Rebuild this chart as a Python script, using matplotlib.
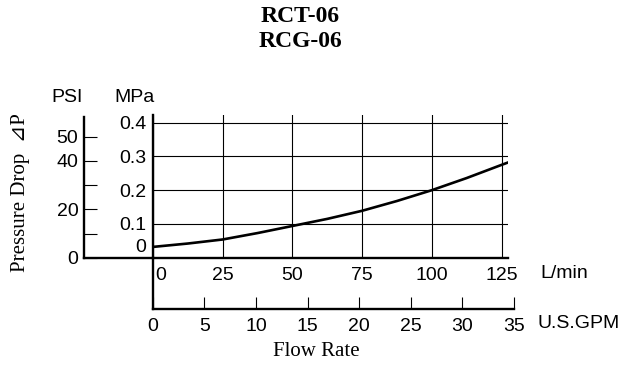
import matplotlib
matplotlib.use("Agg")
import matplotlib.pyplot as plt
from matplotlib.transforms import ScaledTranslation

# ---- data ----
flow_lpm = [0, 12.5, 25, 37.5, 50, 62.5, 75, 87.5, 100, 112.5, 125, 127.3]
drop_mpa = [0.032, 0.042, 0.054, 0.073, 0.094, 0.115, 0.139, 0.168, 0.200, 0.236, 0.275, 0.282]
lpm_ticks = [0, 25, 50, 75, 100, 125]
mpa_ticks = [0, 0.1, 0.2, 0.3, 0.4]
mpa_labels = ["0", "0.1", "0.2", "0.3", "0.4"]
psi_ticks = [0, 10, 20, 30, 40, 50]
psi_labels = ["0", "", "20", "", "40", "50"]
gpm_ticks = [0, 5, 10, 15, 20, 25, 30, 35]
title_lines = ["RCT-06", "RCG-06"]

W, H = 642, 365
fig = plt.figure(figsize=(W / 100, H / 100), dpi=100)
fig.patch.set_facecolor("white")

def rect(x0, y0, x1, y1):
    return [x0 / W, 1 - y1 / H, (x1 - x0) / W, (y1 - y0) / H]

SANS = "Liberation Sans"
SERIF = ["Liberation Serif", "DejaVu Serif", "DejaVu Sans"]
TFS = 14
SPW = 1.7

# PSI axis
ax_psi = fig.add_axes(rect(84, 116.5, 508, 257.7))
ax_psi.patch.set_alpha(0)
ax_psi.set_ylim(0, (257.7 - 116.5) / 2.42)
ax_psi.set_xlim(0, 1)
for s in ["top", "right"]:
    ax_psi.spines[s].set_visible(False)
ax_psi.spines["left"].set_linewidth(SPW)
ax_psi.spines["bottom"].set_linewidth(SPW)
ax_psi.set_xticks([])
ax_psi.set_yticks(psi_ticks)
ax_psi.set_yticklabels(psi_labels, fontfamily=SANS, fontsize=TFS)
ax_psi.tick_params(axis="y", direction="in", length=9.5, width=0.8, pad=4)

# MPa main axes
ax = fig.add_axes(rect(153, 115, 508, 257.7))
ax.patch.set_alpha(0)
ax.set_xlim(0, (508 - 153) / 2.788)
ax.set_ylim(0, (257.7 - 115) / 337.5)
for s in ["top", "right", "bottom"]:
    ax.spines[s].set_visible(False)
ax.spines["left"].set_linewidth(SPW)
ax.set_xticks(lpm_ticks)
ax.set_xticklabels([str(v) for v in lpm_ticks], fontfamily=SANS, fontsize=TFS)
ax.set_yticks(mpa_ticks)
ax.set_yticklabels(mpa_labels, fontfamily=SANS, fontsize=TFS)
ax.tick_params(axis="both", length=0, pad=5)
ax.tick_params(axis="x", pad=7)
ax.grid(True, color="black", linewidth=0.8)
ax.plot(flow_lpm, drop_mpa, color="black", linewidth=1.9, clip_on=True)
# shift first labels
ax.get_xticklabels()[0].set_transform(ax.get_xticklabels()[0].get_transform()
                                       + ScaledTranslation(8 / 100, 0, fig.dpi_scale_trans))
ax.get_yticklabels()[0].set_transform(ax.get_yticklabels()[0].get_transform()
                                       + ScaledTranslation(0, 12 / 100, fig.dpi_scale_trans))

# GPM axis
ax_g = fig.add_axes(rect(152.7, 257.7, 514, 309.3))
ax_g.patch.set_alpha(0)
ax_g.set_xlim(0, 35)
ax_g.set_ylim(0, 1)
for s in ["top", "right"]:
    ax_g.spines[s].set_visible(False)
ax_g.spines["left"].set_linewidth(SPW)
ax_g.spines["bottom"].set_linewidth(SPW)
ax_g.set_yticks([])
ax_g.set_xticks(gpm_ticks)
ax_g.set_xticklabels([str(v) for v in gpm_ticks], fontfamily=SANS, fontsize=TFS)
ax_g.tick_params(axis="x", direction="in", length=9, width=0.8, pad=6)

# texts
fig.text(300 / W, 1 - 16.7 / H, title_lines[0], ha="center", va="center",
         family=SERIF, fontsize=17, fontweight="bold")
fig.text(300 / W, 1 - 41.7 / H, title_lines[1], ha="center", va="center",
         family=SERIF, fontsize=17, fontweight="bold")
fig.text(66.7 / W, 1 - 97.3 / H, "PSI", ha="center", va="center", family=SANS, fontsize=TFS)
fig.text(135 / W, 1 - 97.3 / H, "MPa", ha="center", va="center", family=SANS, fontsize=TFS)
fig.text(540 / W, 1 - 273 / H, "L/min", ha="left", va="center", family=SANS, fontsize=TFS)
fig.text(537.7 / W, 1 - 324 / H, "U.S.GPM", ha="left", va="center", family=SANS, fontsize=TFS)
fig.text(316.7 / W, 1 - 351.7 / H, "Flow Rate", ha="center", va="center", family=SERIF, fontsize=15)
fig.text(21 / W, 1 - 193 / H, "Pressure Drop  \u22bfP", ha="center", va="center",
         rotation=90, family=SERIF, fontsize=15)

fig.savefig("out.png", dpi=100)
